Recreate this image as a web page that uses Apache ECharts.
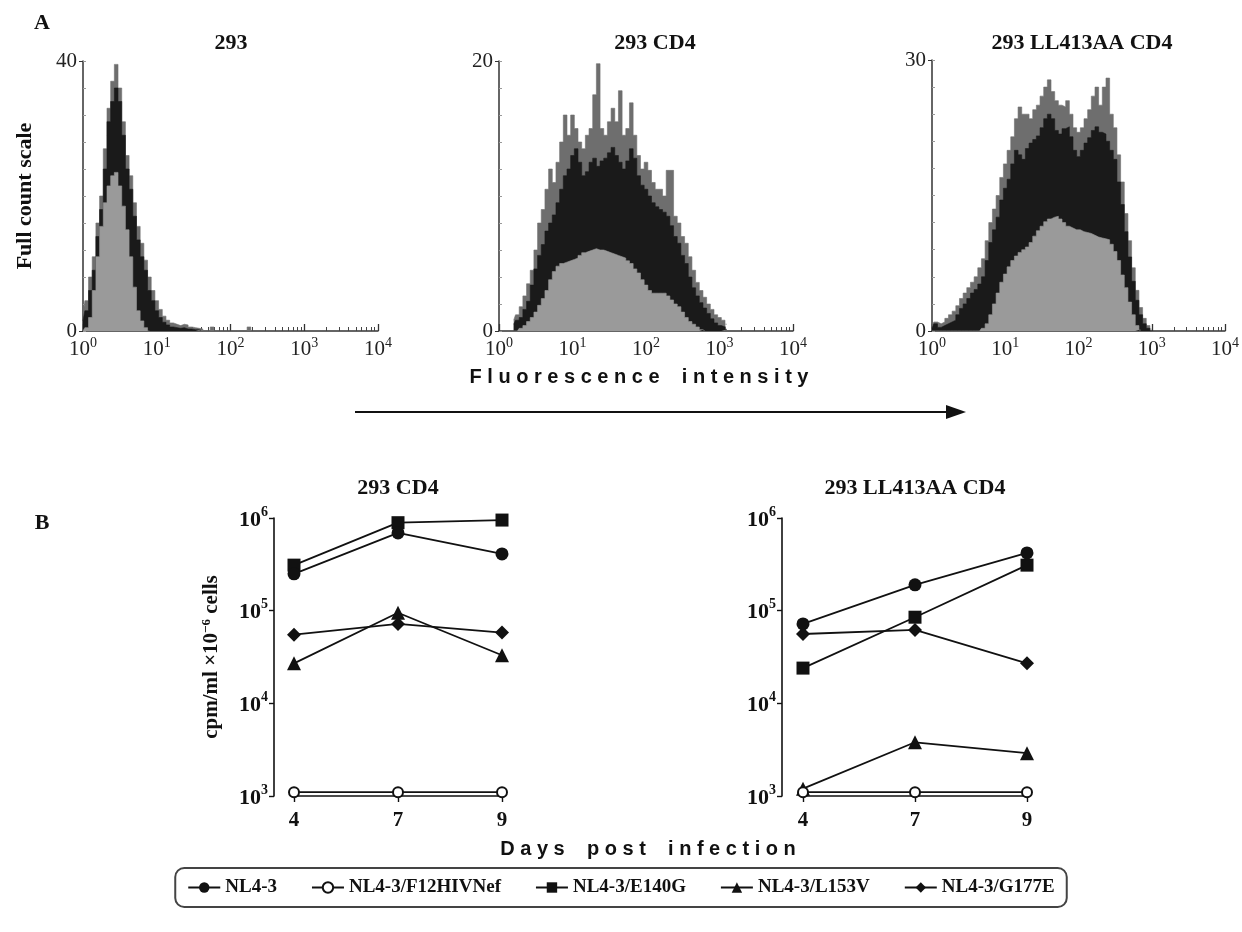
<!DOCTYPE html>
<html>
<head>
<meta charset="utf-8">
<script src="https://cdn.jsdelivr.net/npm/echarts@6/dist/echarts.min.js"></script>
<style>
  html, body { margin: 0; background: #fff; }
  #main { width: 1242px; height: 932px; }
</style>
</head>
<body>
<div id="main"></div>
<script>
// ---- panel A: flow histograms, bins of 0.05 in log10 intensity ----
const histBinStep = 0.05;
const minorMultiples = [2, 3, 4, 5, 6, 7, 8, 9];

const h293Start = 0.0;
const h293Tips = [2.5, 4.5, 8, 11, 16, 20, 27, 33, 37, 39.5, 36, 31, 26, 23, 19, 15.5, 13, 10.5, 8, 6, 4.5, 3.2, 2.2, 1.6, 1.2, 1.0, 0.8, 1.0, 0.9, 0.6, 0.5, 0.4, 0.3,
  0, 0, 0.6, 0, 0, 0, 0, 0, 0, 0, 0, 0, 0.6, 0];
const h293Dark = [1.5, 3, 6, 9, 14, 18, 24, 31, 34, 36, 34, 29, 24, 21, 17, 13.5, 11, 9, 6, 4.5, 3, 2, 1.3, 0.9, 0.6, 0.5, 0.4, 0.5, 0.3, 0.3, 0.2, 0.2, 0.1];
const h293Gray = [0, 0.5, 2, 6, 11, 15.5, 19, 21.5, 23, 23.5, 21.5, 18.5, 15, 11, 6.5, 3, 1.5, 0.5, 0];

const hCD4Start = 0.2;
const hCD4Tips = [0.8, 1.2, 1.8, 2.6, 3.5, 4.5, 6.0, 8.0, 9.0, 10.5, 12.0, 11.0, 12.5, 14.0, 16.0, 14.5, 16.0,
  15.0, 14.0, 13.5, 14.5, 15.0, 17.5, 19.8, 15.0, 14.5, 15.5, 16.5, 15.5, 17.8, 14.5, 15.0, 16.9, 14.5, 13.0, 12.0, 12.5,
  11.9, 11.0, 10.5, 10.5, 10.0, 11.9, 11.9, 8.5, 8.0, 7.0, 6.5, 5.5, 4.5, 3.6, 3.0, 2.5, 2.0, 1.6, 1.2, 1.0, 0.8, 0.5];
const hCD4Dark = [0.5, 0.8, 1.0, 1.6, 2.2, 3.4, 4.6, 5.6, 6.4, 7.4, 8.0, 8.6, 9.5, 10.5, 11.5, 12.0, 13.0,
  13.5, 12.5, 11.5, 11.8, 12.5, 12.8, 12.2, 12.6, 12.8, 13.2, 13.6, 13.0, 12.5, 12.0, 12.6, 13.5, 12.8, 11.5, 10.8, 10.5,
  10.0, 9.5, 9.2, 9.0, 8.8, 8.5, 7.8, 7.0, 6.5, 5.6, 5.0, 4.0, 3.2, 2.6, 2.1, 1.7, 1.3, 0.9, 0.6, 0.4, 0.3, 0.1];
const hCD4Gray = [0, 0, 0.2, 0.4, 0.7, 1.0, 1.4, 1.9, 2.4, 3.0, 3.8, 4.4, 4.8, 5.0, 5.1, 5.2, 5.3,
  5.4, 5.6, 5.8, 5.9, 6.0, 6.1, 6.0, 6.0, 5.9, 5.8, 5.7, 5.6, 5.5, 5.4, 5.2, 5.0, 4.6, 4.3, 3.8, 3.4,
  3.0, 2.8, 2.8, 2.8, 2.8, 2.6, 2.3, 2.0, 1.8, 1.4, 1.0, 0.7, 0.5, 0.3, 0.1, 0];

const hLLStart = 0.0;
const hLLTips = [0.6, 1.0, 0.8, 1.0, 1.4, 1.8, 2.2, 2.8, 3.6, 4.2, 4.8, 5.4, 6.0, 7.0, 8.0, 10.0, 12.0, 13.5, 15.0, 17.0, 18.5,
  20.0, 21.5, 23.5, 24.8, 24.0, 24.0, 23.5, 24.5, 25.0, 26.0, 27.0, 27.8, 26.5, 25.5, 25.0, 24.8, 25.5, 24.0, 22.5, 22.0,
  22.5, 23.5, 24.5, 26.0, 27.0, 25.0, 27.0, 28.0, 24.0, 22.5, 19.5, 16.5, 13.0, 10.0, 7.0, 4.5, 2.6, 1.4, 0.6, 0.2];
const hLLDark = [0.3, 0.8, 0.4, 0.6, 0.8, 1.0, 1.2, 1.8, 2.5, 3.0, 3.6, 4.2, 4.6, 5.2, 6.0, 7.8, 9.8, 11.2, 12.6, 14.5, 15.8,
  16.8, 18.5, 20.0, 19.5, 19.0, 20.2, 20.8, 21.2, 21.6, 22.5, 23.5, 24.0, 23.5, 22.2, 21.8, 22.4, 22.6, 21.5, 20.0, 19.3,
  20.0, 20.8, 21.4, 22.2, 22.6, 22.0, 21.8, 21.0, 20.0, 19.0, 16.5, 14.0, 11.0, 8.2, 5.5, 3.4, 1.8, 0.8, 0.3, 0];
const hLLGray = [0, 0, 0, 0, 0, 0, 0, 0, 0, 0, 0, 0, 0, 0, 0.3, 0.8, 1.8, 3.0, 4.2, 5.4, 6.3,
  7.1, 7.8, 8.3, 8.7, 9.0, 9.3, 9.8, 10.5, 11.1, 11.6, 12.1, 12.4, 12.6, 12.7, 12.4, 12.0, 11.6, 11.4, 11.2, 11.2,
  11.0, 10.9, 10.8, 10.6, 10.4, 10.3, 10.2, 10.1, 9.6, 8.8, 7.8, 6.2, 4.8, 3.2, 1.8, 0.6, 0.1];

// ---- panel B: replication, cpm/ml per 10^6 cells ----
const days = ['4', '7', '9'];
const strainNames = ['NL4-3', 'NL4-3/F12HIVNef', 'NL4-3/E140G', 'NL4-3/L153V', 'NL4-3/G177E'];
const cd4Values = [
  [2.5e5, 6.9e5, 4.1e5],
  [1.1e3, 1.1e3, 1.1e3],
  [3.1e5, 8.9e5, 9.5e5],
  [2.7e4, 9.5e4, 3.3e4],
  [5.5e4, 7.2e4, 5.8e4]
];
const llValues = [
  [7.2e4, 1.9e5, 4.2e5],
  [1.1e3, 1.1e3, 1.1e3],
  [2.4e4, 8.5e4, 3.1e5],
  [1.2e3, 3.8e3, 2.9e3],
  [5.6e4, 6.2e4, 2.7e4]
];
const markers = [
  { symbol: 'circle', size: 13 },
  { symbol: 'emptyCircle', size: 10 },
  { symbol: 'rect', size: 13 },
  { symbol: 'triangle', size: 14 },
  { symbol: 'diamond', size: 14 }
];

const serif = '"Liberation Serif", "DejaVu Serif", serif';
const sans = '"Liberation Sans", Arial, sans-serif';
const ink = '#111';

let chart = echarts.init(document.getElementById('main'));

const grids = [], xAxes = [], yAxes = [], series = [];
const minorTicks = [0, 1, 2, 3].flatMap(d => minorMultiples.map(m => d + Math.log10(m)));

const histRich = {
  b: { fontFamily: serif, fontSize: 21, color: '#222', verticalAlign: 'bottom', lineHeight: 24 },
  s: { fontFamily: serif, fontSize: 14, color: '#222', verticalAlign: 'top', lineHeight: 24 }
};

function histPanel(gi, rect, yMax, start, tips, dark, gray) {
  grids.push(rect);
  xAxes.push({
    gridIndex: gi, type: 'value', min: 0, max: 4, interval: 1, position: 'bottom',
    axisLine: { onZero: false, lineStyle: { color: '#333', width: 1.5 } },
    axisTick: { inside: true, length: 7, lineStyle: { color: '#333', width: 1.3 } },
    axisLabel: { margin: 5, formatter: v => '{b|10}{s|' + v + '}', rich: histRich },
    splitLine: { show: false }
  });
  xAxes.push({
    gridIndex: gi, type: 'value', min: 0, max: 4, position: 'bottom',
    axisLine: { show: false },
    axisTick: { show: true, inside: true, length: 4, customValues: minorTicks, lineStyle: { color: '#444', width: 1 } },
    axisLabel: { show: false }, splitLine: { show: false }
  });
  yAxes.push({
    gridIndex: gi, type: 'value', min: 0, max: yMax, position: 'left',
    axisLine: { show: true, onZero: false, lineStyle: { color: '#333', width: 1.5 } },
    axisTick: { show: true, length: 4, customValues: [0, yMax], lineStyle: { color: '#333' } },
    axisLabel: { customValues: [0, yMax], margin: 6, fontFamily: serif, fontSize: 21, color: '#222' },
    splitLine: { show: false }
  });
  yAxes.push({
    gridIndex: gi, type: 'value', min: 0, max: yMax, interval: yMax / 10, position: 'left',
    axisLine: { show: false },
    axisTick: { show: true, inside: true, length: 3, lineStyle: { color: '#999' } },
    axisLabel: { show: false }, splitLine: { show: false }
  });
  const layers = [[tips, '#6e6e6e'], [dark, '#1a1a1a'], [gray, '#9a9a9a']];
  layers.forEach(([vals, color], k) => {
    series.push({
      type: 'line', xAxisIndex: gi * 2, yAxisIndex: gi * 2, step: 'middle', symbol: 'none', silent: true,
      data: vals.map((v, j) => [+(start + j * histBinStep).toFixed(3), v]),
      lineStyle: { width: 0.6, color }, itemStyle: { color }, areaStyle: { color, opacity: 1 }, z: 2 + k
    });
  });
}

histPanel(0, { left: 83, top: 61, width: 295, height: 270 }, 40, h293Start, h293Tips, h293Dark, h293Gray);
histPanel(1, { left: 499, top: 61, width: 294, height: 270 }, 20, hCD4Start, hCD4Tips, hCD4Dark, hCD4Gray);
histPanel(2, { left: 932, top: 60, width: 296, height: 271 }, 30, hLLStart, hLLTips, hLLDark, hLLGray);

yAxes[0].name = 'Full count scale';
yAxes[0].nameLocation = 'middle';
yAxes[0].nameGap = 47;
yAxes[0].nameTextStyle = { fontFamily: serif, fontWeight: 'bold', fontSize: 22, color: ink };

const expRich = {
  b: { fontFamily: serif, fontWeight: 'bold', fontSize: 22, color: ink, verticalAlign: 'bottom', lineHeight: 26 },
  s: { fontFamily: serif, fontWeight: 'bold', fontSize: 14, color: ink, verticalAlign: 'top', lineHeight: 26 }
};

function growthPanel(rect, offset, values) {
  const gi = grids.length;
  grids.push(rect);
  xAxes.push({
    gridIndex: gi, type: 'category', data: days, boundaryGap: false, position: 'bottom',
    axisLine: { onZero: false, lineStyle: { color: ink, width: 1.6 } },
    axisTick: { show: true, length: 6, lineStyle: { color: ink, width: 1.4 } },
    axisLabel: { margin: 14, fontFamily: serif, fontWeight: 'bold', fontSize: 21, color: ink },
    splitLine: { show: false }
  });
  yAxes.push({
    gridIndex: gi, type: 'log', logBase: 10, min: 1e3, max: 1e6, position: 'left', offset,
    axisLine: { show: true, onZero: false, lineStyle: { color: ink, width: 1.6 } },
    axisTick: { show: true, length: 5, lineStyle: { color: ink, width: 1.4 } },
    axisLabel: { margin: 6, formatter: v => '{b|10}{s|' + Math.round(Math.log10(v)) + '}', rich: expRich },
    splitLine: { show: false }
  });
  values.forEach((vals, k) => {
    series.push({
      type: 'line', name: strainNames[k], xAxisIndex: xAxes.length - 1, yAxisIndex: yAxes.length - 1,
      data: vals, symbol: markers[k].symbol, symbolSize: markers[k].size, showAllSymbol: true,
      lineStyle: { color: ink, width: 1.8 }, itemStyle: { color: ink, borderWidth: 1.6 }, z: 10 - k
    });
  });
  return yAxes.length - 1;
}

const bLeftAxis = growthPanel({ left: 294, top: 518, width: 208, height: 278 }, 20, cd4Values);
growthPanel({ left: 803, top: 518, width: 224, height: 278 }, 21, llValues);

Object.assign(yAxes[bLeftAxis], {
  name: 'cpm/ml ×10{s|−6} cells', nameLocation: 'middle', nameGap: 50,
  nameTextStyle: {
    fontFamily: serif, fontWeight: 'bold', fontSize: 21, color: ink,
    rich: {
      s: { fontFamily: serif, fontWeight: 'bold', fontSize: 13, color: ink, verticalAlign: 'top', lineHeight: 24 }
    }
  }
});

function label(text, x, y, font) {
  return {
    type: 'text', x, y, silent: true,
    style: { text, font, fill: ink, textAlign: 'center', textVerticalAlign: 'middle' }
  };
}
const titleFont = 'bold 22px ' + serif;
const spacedFont = 'bold 20px ' + sans;

chart.setOption({
  animation: false,
  backgroundColor: '#fff',
  grid: grids,
  xAxis: xAxes,
  yAxis: yAxes,
  series,
  legend: {
    data: strainNames, left: 'center', top: 868, selectedMode: false,
    itemWidth: 32, itemHeight: 13, itemGap: 34, padding: [10, 12],
    borderColor: '#444', borderWidth: 2, borderRadius: 9,
    textStyle: { fontFamily: serif, fontWeight: 'bold', fontSize: 19, color: ink }
  },
  graphic: [
    label('A', 42, 23, titleFont),
    label('B', 42, 523, titleFont),
    label('293', 231, 43, titleFont),
    label('293 CD4', 655, 43, titleFont),
    label('293 LL413AA CD4', 1082, 43, titleFont),
    label('F l u o r e s c e n c e    i n t e n s i t y', 639, 377, spacedFont),
    { type: 'line', silent: true, shape: { x1: 355, y1: 412, x2: 950, y2: 412 }, style: { stroke: ink, lineWidth: 2 } },
    { type: 'polygon', silent: true, shape: { points: [[966, 412], [946, 405], [946, 419]] }, style: { fill: ink } },
    label('293 CD4', 398, 488, titleFont),
    label('293 LL413AA CD4', 915, 488, titleFont),
    label('D a y s    p o s t    i n f e c t i o n', 648, 849, spacedFont)
  ]
});
</script>
</body>
</html>
